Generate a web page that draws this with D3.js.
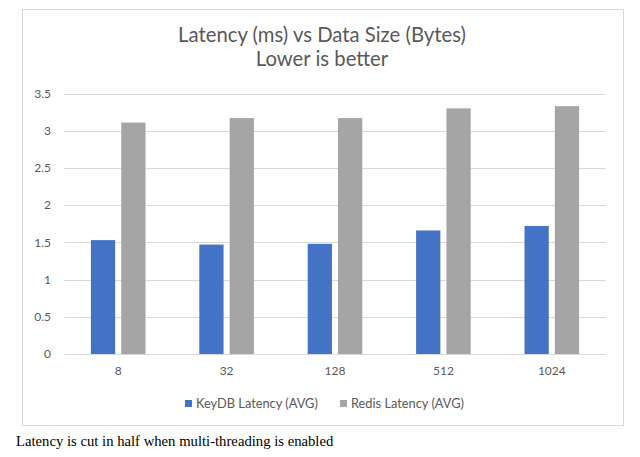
<!DOCTYPE html>
<html>
<head>
<meta charset="utf-8">
<script src="https://cdn.jsdelivr.net/npm/d3@7"></script>
<style>
  html, body { margin: 0; padding: 0; background: #fff; }
  svg { display: block; }
</style>
</head>
<body>
<svg id="chart" width="640" height="457"></svg>
<script>
const categories = ["8", "32", "128", "512", "1024"];
const seriesNames = ["KeyDB Latency (AVG)", "Redis Latency (AVG)"];
const keydbLatency = [1.53, 1.47, 1.48, 1.66, 1.72];
const redisLatency = [3.11, 3.17, 3.17, 3.30, 3.33];
const yTicks = [0, 0.5, 1, 1.5, 2, 2.5, 3, 3.5];
const colors = ["#4472C4", "#A5A5A5"];

const svg = d3.select("#chart");
const font = "Lato, 'Open Sans', sans-serif";
const textColor = "#595959";

// chart frame
svg.append("rect")
  .attr("x", 22.5).attr("y", 9.5)
  .attr("width", 601).attr("height", 416)
  .attr("fill", "#fff").attr("stroke", "#D9D9D9").attr("stroke-width", 1);

const plot = { left: 64, right: 606, top: 93.5, bottom: 354 };

const x = d3.scaleBand().domain(categories).range([plot.left, plot.right]).paddingInner(0).paddingOuter(0);
const groupPad = (x.bandwidth() - 54.6) / 2;
const x1 = d3.scaleBand().domain(seriesNames).range([groupPad, x.bandwidth() - groupPad]).paddingInner(0.2).paddingOuter(0);
const y = d3.scaleLinear().domain([0, 3.5]).range([plot.bottom, plot.top]);

// gridlines
svg.append("g")
  .selectAll("line")
  .data(yTicks)
  .join("line")
  .attr("x1", plot.left).attr("x2", plot.right)
  .attr("y1", d => Math.round(y(d)) + 0.5).attr("y2", d => Math.round(y(d)) + 0.5)
  .attr("stroke", "#D9D9D9").attr("stroke-width", 1);

// y axis labels
const yAxis = d3.axisLeft(y).tickValues(yTicks).tickSize(0).tickPadding(0).tickFormat(d3.format("~g"));
const yg = svg.append("g").attr("transform", `translate(51,0)`).call(yAxis);
yg.select(".domain").remove();
yg.selectAll("text").attr("fill", textColor).style("font-family", font).style("font-size", "12px");

// bars
const data = categories.map((c, i) => ({ cat: c, vals: [keydbLatency[i], redisLatency[i]] }));
const groups = svg.append("g").selectAll("g")
  .data(data).join("g")
  .attr("transform", d => `translate(${x(d.cat)},0)`);
groups.selectAll("rect")
  .data(d => d.vals.map((v, j) => ({ name: seriesNames[j], v, j })))
  .join("rect")
  .attr("x", d => x1(d.name))
  .attr("width", x1.bandwidth())
  .attr("y", d => y(d.v))
  .attr("height", d => y(0) - y(d.v))
  .attr("fill", d => colors[d.j]);

// x axis
const xAxis = d3.axisBottom(x).tickSize(0).tickPadding(12);
const xg = svg.append("g").attr("transform", `translate(0,${plot.bottom})`).call(xAxis);
xg.select(".domain").attr("stroke", "#D9D9D9");
xg.selectAll("text").attr("fill", textColor).style("font-family", font).style("font-size", "12px");

// title
const title = svg.append("text")
  .attr("x", 322).attr("text-anchor", "middle")
  .attr("fill", textColor).style("font-family", font).style("font-size", "20.3px");
title.append("tspan").attr("x", 322).attr("y", 42).text("Latency (ms) vs Data Size (Bytes)");
title.append("tspan").attr("x", 322).attr("y", 66).text("Lower is better");

// legend
const legendItems = [
  { name: seriesNames[0], color: colors[0], x: 185 },
  { name: seriesNames[1], color: colors[1], x: 340 }
];
const lg = svg.append("g").selectAll("g").data(legendItems).join("g")
  .attr("transform", d => `translate(${d.x},0)`);
lg.append("rect").attr("x", 0).attr("y", 400).attr("width", 7).attr("height", 7).attr("fill", d => d.color);
lg.append("text").attr("x", 11).attr("y", 408)
  .attr("fill", textColor).style("font-family", font).style("font-size", "12.8px")
  .text(d => d.name);

// caption
svg.append("text")
  .attr("x", 16).attr("y", 446)
  .attr("fill", "#000").style("font-family", "'Liberation Serif', 'Times New Roman', serif").style("font-size", "14.7px")
  .text("Latency is cut in half when multi-threading is enabled");
</script>
</body>
</html>
